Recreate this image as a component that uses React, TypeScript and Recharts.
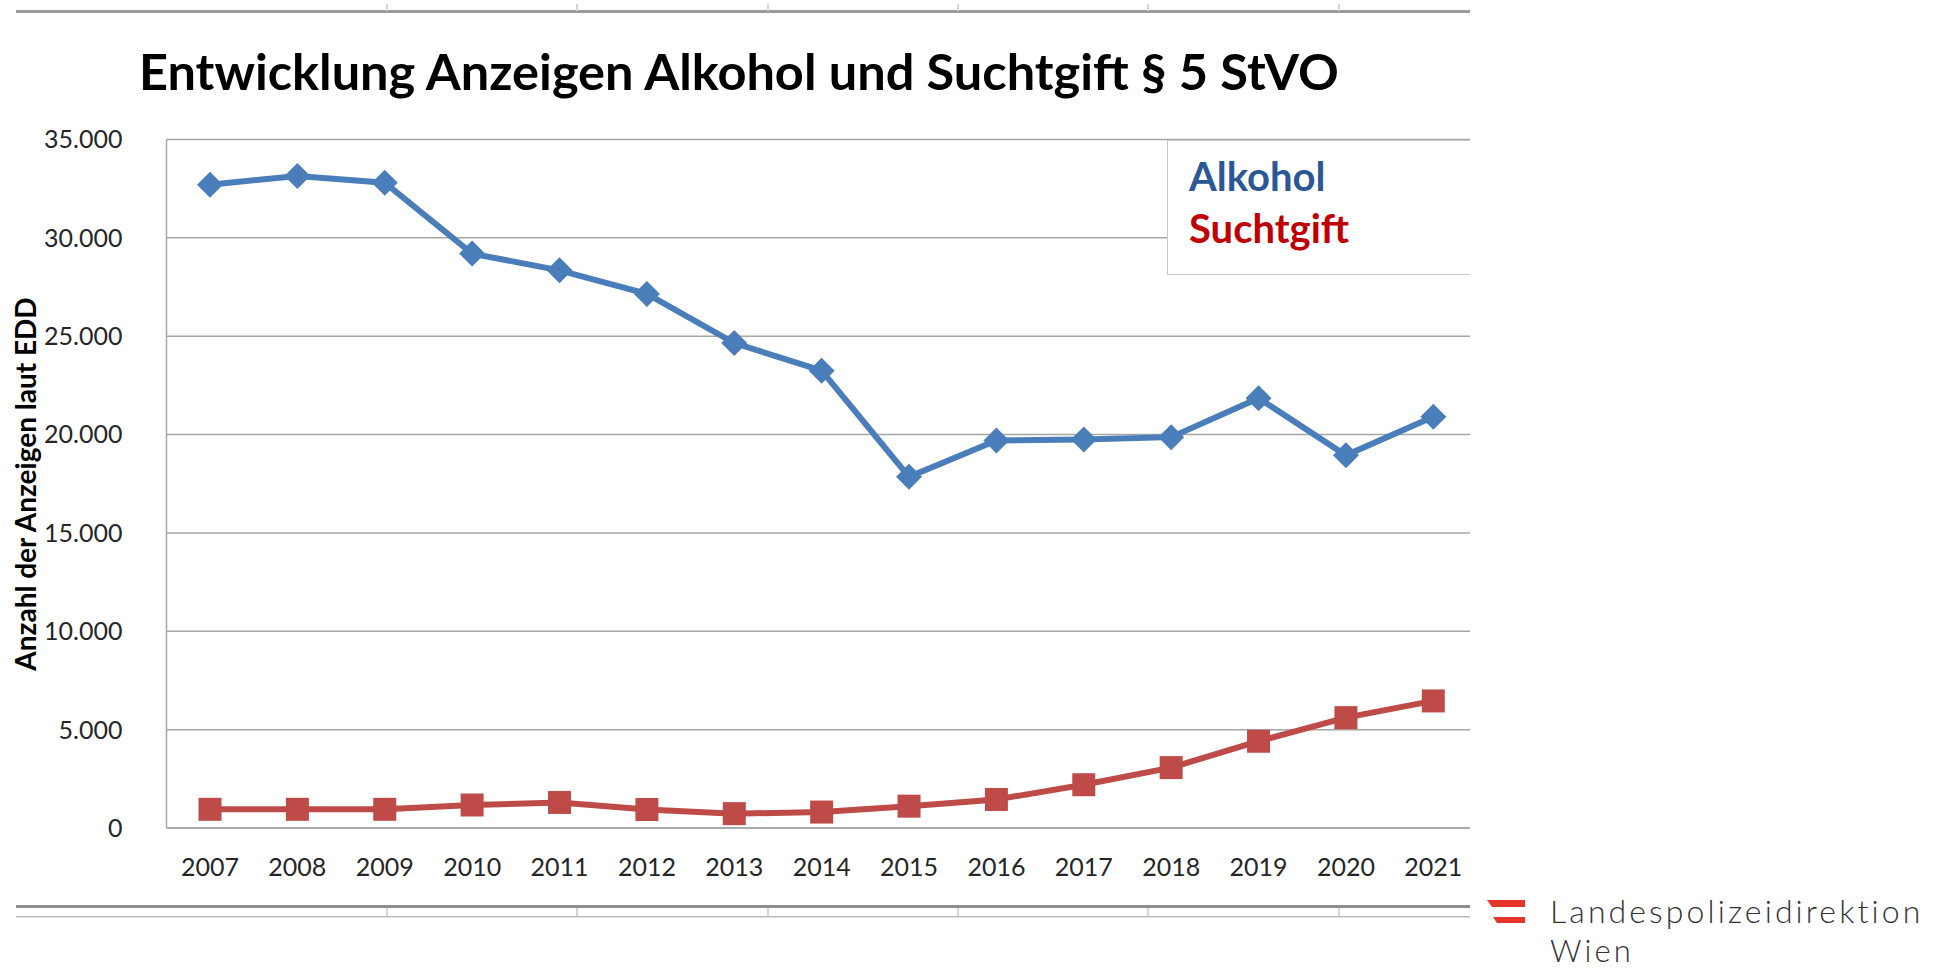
import React from "react";
import { LineChart, Line, XAxis, YAxis, CartesianGrid } from "recharts";

const years = ["2007", "2008", "2009", "2010", "2011", "2012", "2013", "2014", "2015", "2016", "2017", "2018", "2019", "2020", "2021"];
const alkohol = [32700, 33150, 32800, 29200, 28350, 27150, 24650, 23250, 17850, 19700, 19750, 19870, 21850, 18950, 20900];
const suchtgift = [950, 950, 950, 1170, 1300, 940, 730, 810, 1110, 1450, 2200, 3070, 4410, 5610, 6460];
const yTicks = [0, 5000, 10000, 15000, 20000, 25000, 30000, 35000];
const seriesNames = ["Alkohol", "Suchtgift"];
const legendColors = ["#2B5797", "#C00000"];

const data = years.map((y, i) => ({ year: y, alkohol: alkohol[i], suchtgift: suchtgift[i] }));

const fmt = (v: number) => v.toLocaleString("de-DE");
const FONT = "Lato, 'Open Sans', sans-serif";

const Diamond = (p: any) => {
  const { cx, cy } = p;
  if (cx == null || cy == null) return null;
  const r = 13;
  return <polygon points={`${cx},${cy - r} ${cx + r},${cy} ${cx},${cy + r} ${cx - r},${cy}`} fill="#4A7EBB" />;
};
const Square = (p: any) => {
  const { cx, cy } = p;
  if (cx == null || cy == null) return null;
  return <rect x={cx - 11.5} y={cy - 11.5} width={23} height={23} fill="#BE4B48" />;
};

const tickX = [386, 576, 767, 957, 1147, 1338];

export default function App() {
  return (
    <div style={{ position: "absolute", left: 0, top: 0, width: 1936, height: 972, background: "#fff", overflow: "hidden" }}>
      <svg width={1936} height={972} style={{ position: "absolute", left: 0, top: 0 }}>
        {/* frame decorations */}
        <rect x={16} y={10} width={1454} height={3} fill="#9A9A9A" />
        {tickX.map((x) => <rect key={"t" + x} x={x} y={4} width={2} height={7} fill="#D4D4D4" />)}
        <rect x={16} y={905} width={1454} height={3} fill="#8E8E8E" />
        <rect x={16} y={916} width={1454} height={1.5} fill="#BDBDBD" />
        {tickX.map((x) => <rect key={"b" + x} x={x} y={908} width={2} height={8} fill="#D4D4D4" />)}
        {/* title */}
        <text x={139} y={90} fontFamily={FONT} fontWeight={700} fontSize={50.5} fill="#000">Entwicklung Anzeigen Alkohol und Suchtgift § 5 StVO</text>
        {/* y axis title */}
        <text x={0} y={0} transform="translate(36,484) rotate(-90)" textAnchor="middle" fontFamily={FONT} fontWeight={700} fontSize={28} fill="#000">Anzahl der Anzeigen laut EDD</text>
        {/* logo */}
        <polygon points="1487,900 1525,900 1525,907 1492,907" fill="#E5352A" />
        <polygon points="1493,917 1525,917 1525,923 1497,923" fill="#E5352A" />
        <text x={1550} y={923} fontFamily={FONT} fontWeight={300} fontSize={32} letterSpacing={3.1} fill="#333">Landespolizeidirektion</text>
        <text x={1550} y={962} fontFamily={FONT} fontWeight={300} fontSize={31} letterSpacing={3.1} fill="#333">Wien</text>
      </svg>
      <div style={{ position: "absolute", left: 0, top: 0 }}>
        <LineChart width={1936} height={972} data={data} margin={{ top: 139.5, right: 466, bottom: 0, left: 0 }}>
          <CartesianGrid vertical={false} stroke="#A6A6A6" strokeWidth={1.5} />
          <XAxis
            dataKey="year"
            scale="point"
            padding={{ left: 43.5, right: 36.7 }}
            height={144}
            axisLine={{ stroke: "#A6A6A6", strokeWidth: 1.5 }}
            tickLine={false}
            tickSize={0}
            tickMargin={30}
            tick={{ fontSize: 25, fill: "#262626", fontFamily: FONT }}
            interval={0}
          />
          <YAxis
            domain={[0, 35000]}
            ticks={yTicks}
            tickFormatter={fmt}
            width={166.5}
            axisLine={{ stroke: "#A6A6A6", strokeWidth: 1.5 }}
            tickLine={false}
            tickSize={0}
            tickMargin={44}
            tick={{ fontSize: 25, fill: "#262626", fontFamily: FONT }}
          />
          <Line dataKey="alkohol" name="Alkohol" stroke="#4A7EBB" strokeWidth={6} dot={<Diamond />} activeDot={false} isAnimationActive={false} />
          <Line dataKey="suchtgift" name="Suchtgift" stroke="#BE4B48" strokeWidth={6} dot={<Square />} activeDot={false} isAnimationActive={false} />
        </LineChart>
      </div>
      {/* legend */}
      <div style={{ position: "absolute", left: 1167, top: 140, width: 303, height: 135, background: "#fff", border: "1.5px solid #C8C8C8", borderRight: "none", fontFamily: FONT, fontWeight: 700, fontSize: 40, boxSizing: "border-box", paddingLeft: 21, paddingTop: 9 }}>
        {seriesNames.map((n, i) => (
          <div key={n} style={{ color: legendColors[i], lineHeight: "52px" }}>{n}</div>
        ))}
      </div>
    </div>
  );
}
